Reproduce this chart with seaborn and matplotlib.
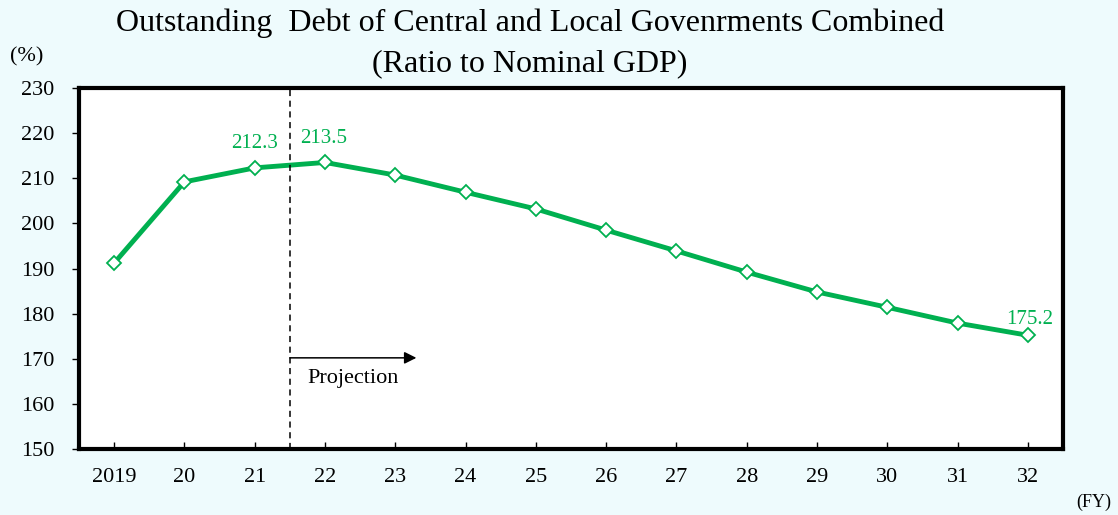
import matplotlib
matplotlib.use("Agg")
import matplotlib.pyplot as plt
import seaborn as sns
import pandas as pd

years = ["2019", "20", "21", "22", "23", "24", "25", "26", "27", "28", "29", "30", "31", "32"]
debt_ratio = [191.2, 209.2, 212.3, 213.5, 210.7, 206.9, 203.2, 198.5, 193.9, 189.2, 184.8, 181.4, 177.9, 175.2]
labelled = {2: "212.3", 3: "213.5", 13: "175.2"}

sns.set_theme(style="white")
plt.rcParams["font.family"] = ["Liberation Serif", "DejaVu Serif"]
plt.rcParams["text.color"] = "black"
plt.rcParams["xtick.color"] = "black"
plt.rcParams["ytick.color"] = "black"

bg = "#EEFBFD"
green = "#00B050"

df = pd.DataFrame({"pos": range(len(years)), "ratio": debt_ratio})

fig = plt.figure(figsize=(11.18, 5.15), dpi=100, facecolor=bg)
ax = fig.add_axes([79 / 1118, 1 - 449 / 515, (1063 - 79) / 1118, (449 - 88) / 515])
ax.set_facecolor("white")

sns.lineplot(data=df, x="pos", y="ratio", ax=ax, color=green, linewidth=3.5,
             marker="D", markersize=7, markerfacecolor="white",
             markeredgecolor=green, markeredgewidth=1.3)

ax.set_xlim(-0.5, len(years) - 0.5)
ax.set_ylim(150, 230)
ax.set_xticks(range(len(years)))
ax.set_xticklabels(years)
ax.set_yticks(range(150, 231, 10))
ax.set_xlabel("")
ax.set_ylabel("")

for s in ax.spines.values():
    s.set_visible(True)
    s.set_color("black")
    s.set_linewidth(3)

ax.tick_params(axis="y", direction="out", length=5, width=1, colors="black",
               labelsize=16, pad=13, left=True)
ax.tick_params(axis="x", direction="in", length=5, width=1, colors="black",
               labelsize=16, pad=14, bottom=True)

# value labels: (x offset, y offset) per labelled point
offsets = {2: (0.0, 3.4), 3: (-0.015, 3.2), 13: (0.03, 1.4)}
for i, txt in labelled.items():
    dx, dy = offsets[i]
    ax.text(i + dx, debt_ratio[i] + dy, txt, color=green, fontsize=15,
            ha="center", va="bottom")

# projection boundary
ax.axvline(2.5, color="black", linestyle=(0, (4, 3)), linewidth=1.1)
ax.annotate("", xy=(4.3, 170.2), xytext=(2.5, 170.2),
            arrowprops=dict(arrowstyle="-|>", color="black", lw=1.1,
                            mutation_scale=18, shrinkA=0, shrinkB=0))
ax.text(3.4, 165.6, "Projection", fontsize=16, ha="center", va="center", color="black")

fig.text(530 / 1118, 1 - 23 / 515, "Outstanding  Debt of Central and Local Govenrments Combined",
         fontsize=23, ha="center", va="center")
fig.text(530 / 1118, 1 - 64 / 515, "(Ratio to Nominal GDP)",
         fontsize=23, ha="center", va="center")
fig.text(27 / 1118, 1 - 57 / 515, "(%)", fontsize=16, ha="center", va="center")
fig.text(1094 / 1118, 1 - 502 / 515, "(FY)", fontsize=13, ha="center", va="center")

fig.savefig("out.png", dpi=100, facecolor=bg)
